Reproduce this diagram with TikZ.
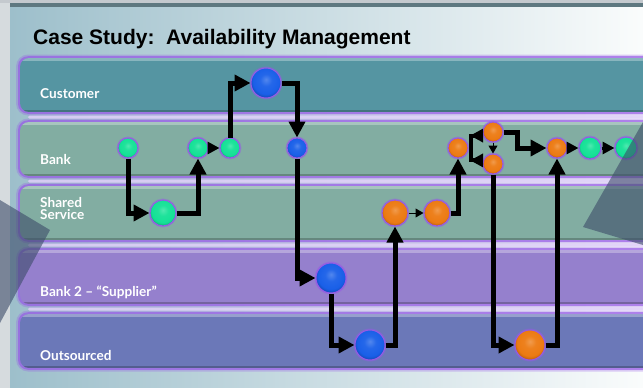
\documentclass[tikz,border=0pt]{standalone}
\usepackage{fontspec}
\setmainfont{Liberation Sans}
\newfontfamily\lanefont{Lato}
\usetikzlibrary{arrows.meta}

\definecolor{pageGray}{RGB}{214,219,222}
\definecolor{topGray}{RGB}{196,201,206}
\definecolor{topBand}{RGB}{94,120,128}
\definecolor{bodyLeft}{RGB}{157,191,203}
\definecolor{bodyRight}{RGB}{250,252,252}
\definecolor{laneCust}{RGB}{85,149,162}
\definecolor{laneBank}{RGB}{130,173,162}
\definecolor{laneSup}{RGB}{149,128,205}
\definecolor{laneOut}{RGB}{107,120,184}
\definecolor{glowc}{RGB}{150,90,230}
\definecolor{gapLight}{RGB}{222,205,248}
\definecolor{grn}{RGB}{20,225,150}
\definecolor{blu}{RGB}{25,95,232}
\definecolor{org}{RGB}{236,122,18}
\definecolor{veil}{RGB}{60,75,105}

% soft ball shading, colour taken from dotcolor
\colorlet{dotcolor}{grn}
\pgfdeclareradialshading[dotcolor]{dotball}{\pgfpoint{0bp}{6bp}}{%
  color(0bp)=(dotcolor!75!white);
  color(10bp)=(dotcolor!95!white);
  color(22bp)=(dotcolor);
  color(28bp)=(dotcolor!75!black);
  color(50bp)=(dotcolor!75!black)}

% swim lanes: #1 top, #2 bottom, #3 fill
\newcommand\swimlane[3]{%
  \fill[glowc, opacity=0.30, rounded corners=12pt] (16,#1-3.5) rectangle (720,#2+3.5);
  \fill[glowc, opacity=0.65, rounded corners=10pt] (18,#1-1.8) rectangle (720,#2+1.8);
  \begin{scope}
    \clip[rounded corners=9pt] (20,#1) rectangle (720,#2);
    \fill[#3] (20,#1) rectangle (720,#2);
    \fill[white, opacity=0.30] (20,#1) rectangle (720,#1+2.5);
    \fill[black, opacity=0.22] (20,#2-2.5) rectangle (720,#2);
  \end{scope}}
\newcommand\lanegap[1]{%
  \fill[gapLight, opacity=0.85, rounded corners=1.5pt] (28,#1-1.5) rectangle (720,#1+1.5);}

\begin{document}
\begin{tikzpicture}[x=1pt,y=-1pt,
  dot/.style={circle, inner sep=0pt, minimum size=#1,
    draw=glowc, line width=1pt,
    preaction={draw=glowc, draw opacity=0.4, line width=3pt},
    shading=dotball},
  gdot/.style={dot=#1, /utils/exec={\colorlet{dotcolor}{grn}}},
  bdot/.style={dot=#1, /utils/exec={\colorlet{dotcolor}{blu}}},
  odot/.style={dot=#1, /utils/exec={\colorlet{dotcolor}{org}}},
  conn/.style={line width=5pt, -{Triangle[length=16pt,width=16pt]}},
  shortconn/.style={line width=3pt, -{Triangle[length=12pt,width=12pt]}},
  tinyconn/.style={line width=1pt, -{Triangle[length=8pt,width=9pt]}},
  forkconn/.style={line width=4pt,
    {Triangle[reversed,length=13pt,width=13pt]}-{Triangle[reversed,length=13pt,width=13pt]}},
  lanelbl/.style={anchor=base west, inner sep=0pt, text=white,
    font=\lanefont\bfseries\fontsize{13.6}{12}\selectfont},
]
\useasboundingbox (0,0) rectangle (643,388);
\clip (0,0) rectangle (643,388);

% page and slide background
\fill[pageGray] (0,0) rectangle (643,388);
\fill[topGray] (0,0) rectangle (643,3);
\shade[left color=bodyLeft, right color=bodyRight] (10,7) rectangle (643,388);
\fill[topBand] (10,3) rectangle (643,7);

\node[anchor=base west, inner sep=0pt, font=\bfseries\fontsize{21}{25}\selectfont]
  (title) at (33,45) {Case Study:\ \ Availability Management};

\swimlane{58}{112}{laneCust}
\swimlane{122}{176}{laneBank}
\swimlane{186}{240}{laneBank}
\swimlane{250}{304}{laneSup}
\swimlane{314}{368}{laneOut}
\lanegap{117}
\lanegap{181}
\lanegap{245}
\lanegap{309}

\node[lanelbl] (lcust) at (40,98) {Customer};
\node[lanelbl] (lbank) at (40,164) {Bank};
\node[lanelbl, anchor=north west, align=left] (lshared) at (40,197.3) {Shared\\Service};
\node[lanelbl] (lsupp) at (40,296) {Bank 2 – “Supplier”};
\node[lanelbl] (lout) at (40,360) {Outsourced};

% steps
\node[gdot=20pt] (G1) at (128,148) {};
\node[gdot=20pt] (G2) at (198,148) {};
\node[gdot=20pt] (G3) at (230,148) {};
\node[gdot=26pt] (G4) at (163,213) {};
\node[gdot=22pt] (G5) at (590,148) {};
\node[gdot=22pt] (G6) at (626,148) {};
\node[bdot=30pt] (B1) at (266,83) {};
\node[bdot=20pt] (B2) at (297,148) {};
\node[bdot=30pt] (B3) at (331,278) {};
\node[bdot=30pt] (B4) at (370,345) {};
\node[odot=26pt] (O1) at (395,213) {};
\node[odot=26pt] (O2) at (437,213) {};
\node[odot=20pt] (O3) at (458,148) {};
\node[odot=20pt] (O4) at (493,132) {};
\node[odot=20pt] (O5) at (493,164) {};
\node[odot=20pt] (O6) at (557,148) {};
\node[odot=30pt] (O7) at (530,345) {};

\coordinate (k1) at (517,132);
\coordinate (f1) at (471,148);

% flow
\draw[conn] (G1) |- (G4);
\draw[conn] (G4) -| (G2);
\draw[shortconn] (G2) -- (G3);
\draw[conn] (G3) |- (B1);
\draw[conn] (B1) -| (B2);
\draw[conn] (B2) |- (B3);
\draw[conn] (B3) |- (B4);
\draw[conn] (B4) -| (O1);
\draw[tinyconn] (O1) -- (O2);
\draw[conn] (O2) -| (O3);
\draw[forkconn] (O4.200) -| (f1) |- (O5.160);
\draw[tinyconn] (O4) -- (O5);
\draw[conn] (O4) -- (k1) |- (O6);
\draw[conn] (O5) |- (O7);
\draw[conn] (O7) -| (O6);
\draw[shortconn] (O6) -- (G5);
\draw[shortconn] (G5) -- (G6);

% translucent wedges at the sides
\fill[veil, opacity=0.6] (0,200) -- (50,230) -- (0,323) -- cycle;
\fill[veil, opacity=0.6] (643,122) -- (583,227) -- (643,245) -- cycle;
\end{tikzpicture}
\end{document}
